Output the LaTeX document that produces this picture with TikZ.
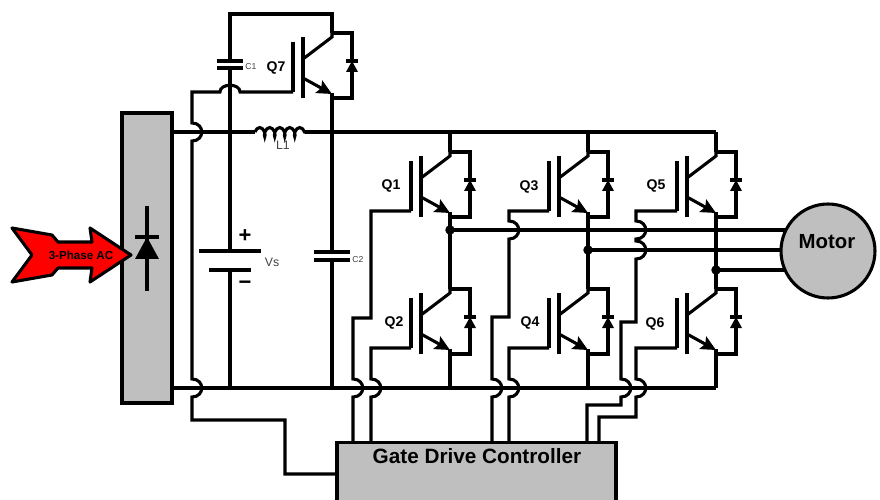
\documentclass[tikz,border=0pt]{standalone}
\usepackage{fontspec}
\setmainfont{Liberation Sans}
\usetikzlibrary{arrows.meta,decorations.pathmorphing}
\newcommand{\vhop}[2]{-- (#1,#2-9) .. controls (#1+13,#2-9) and (#1+13,#2+9) .. (#1,#2+9)}
\newcommand{\hhop}[2]{-- (#1+10,#2) .. controls (#1+10,#2-9) and (#1-10,#2-9) .. (#1-10,#2)}
\tikzset{
  wire/.style={line width=1.75pt,line join=miter},
  block/.style={draw,fill=gray75,line width=1.75pt,outer sep=0pt,inner sep=0pt},
  qlabel/.style={font=\fontsize{8}{9}\selectfont\bfseries,inner sep=0pt},
  clabel/.style={font=\fontsize{4.9}{6}\selectfont,text=black!75,inner sep=0pt},
  vlabel/.style={font=\fontsize{7}{8}\selectfont,text=black!75,inner sep=0pt},
  signlabel/.style={font=\fontsize{12.5}{14}\selectfont\bfseries,inner sep=0pt},
  dot/.style={circle,fill=black,minimum size=5.4pt,inner sep=0pt},
  igbt/.pic={
    \coordinate (-c) at (0,0);
    \coordinate (-e) at (0,65);
    \coordinate (-g) at (-39,59);
    \draw[wire] (0,0) -- (20,0) -- (20,28) (20,39) -- (20,65) -- (0,65);
    \draw[wire] (-29,4) -- (-29,65);
    \draw[wire] (-39,9) -- (-39,59);
    \draw[wire] (0,0) -- (0,4) -- (-29,26);
    \draw[wire,-{Stealth[length=8.5pt,width=8pt,inset=1.5pt]}] (-29,45) -- (0,61);
    \draw[wire] (0,60) -- (0,65);
    \draw[wire] (14,28) -- (26,28);
    \fill (20,28) -- (14,39) -- (26,39) -- cycle;
  }
}
\colorlet{gray75}{black!25}
\begin{document}
\begin{tikzpicture}[x=0.02cm,y=-0.02cm]
  \useasboundingbox (0,0) rectangle (880,500);

  % dc buses
  \coordinate (busp) at (716,132);
  \coordinate (busn) at (716,388);
  \coordinate (ph1) at (450,230);
  \coordinate (ph2) at (588,250);
  \coordinate (ph3) at (716,270);

  % rectifier and ac input
  \node[block,minimum width=1cm,minimum height=5.8cm] (rectifier) at (147,258) {};
  \draw[wire] (147,206) -- (147,291);
  \draw[wire] (135,237) -- (159,237);
  \fill (147,237) -- (135,259) -- (159,259) -- cycle;
  \draw[wire,fill=red,line join=round] (12,228) -- (52,235) -- (58,242) -- (92,242) -- (90,228) -- (131,255)
    -- (90,282) -- (92,268) -- (58,268) -- (52,275) -- (12,282) -- (32,255) -- cycle;
  \node[font=\fontsize{6.6}{8}\selectfont\bfseries,inner sep=0pt] (aclabel) at (81,255) {3-Phase AC};

  \draw[wire] (rectifier.east |- busp) -- (255,132);
  \draw[wire,decorate,decoration={coil,aspect=0.5,amplitude=0.09cm,segment length=0.2cm}] (255,132) -- (305,132);
  \draw[wire] (305,132) -- (busp);
  \draw[wire] (rectifier.east |- busn) -- (busn);

  % igbts
  \pic (q7) at (332,33) {igbt};
  \pic (q1) at (450,152) {igbt};
  \pic (q2) at (450,289) {igbt};
  \pic (q3) at (588,152) {igbt};
  \pic (q4) at (588,289) {igbt};
  \pic (q5) at (716,152) {igbt};
  \pic (q6) at (716,289) {igbt};

  \node[qlabel] (q7label) at (276,68) {Q7};
  \node[qlabel] (q1label) at (391,186) {Q1};
  \node[qlabel] (q2label) at (394,323) {Q2};
  \node[qlabel] (q3label) at (529,187) {Q3};
  \node[qlabel] (q4label) at (530,323) {Q4};
  \node[qlabel] (q5label) at (656,186) {Q5};
  \node[qlabel] (q6label) at (655,324) {Q6};

  % legs
  \foreach \u/\l in {q1/q2,q3/q4,q5/q6}{
    \draw[wire] (\u-c |- busp) -- (\u-c);
    \draw[wire] (\u-e) -- (\l-c);
    \draw[wire] (\l-e) -- (\l-e |- busn);
  }

  % source, c1, c2
  \draw[wire] (q7-c) -- (332,14) -- (230,14) -- (230,61);
  \draw[wire] (217,61) -- (243,61);
  \draw[wire] (217,68) -- (243,68);
  \draw[wire] (230,68) -- (230,251);
  \draw[wire] (199,251) -- (261,251);
  \draw[wire] (209,270) -- (251,270);
  \draw[wire] (230,270) -- (230,388);
  \draw[wire] (q7-e) -- (332,252);
  \draw[wire] (314,252) -- (350,252);
  \draw[wire] (314,260) -- (350,260);
  \draw[wire] (332,260) -- (332,388);

  \node[clabel] (c1label) at (251,67) {C1};
  \node[clabel] (c2label) at (358,260) {C2};
  \node[vlabel] (l1label) at (283,145) {L1};
  \node[vlabel] (vslabel) at (272,262) {Vs};
  \node[signlabel] (plus) at (245,236) {+};
  \node[signlabel] (minus) at (245,285) {−};

  % motor
  \draw[wire] (ph1) -- (ph1 -| 800,0);
  \draw[wire] (ph2) -- (ph2 -| 800,0);
  \draw[wire] (ph3) -- (ph3 -| 800,0);
  \node[block,circle,minimum size=1.88cm] (motor) at (828,251) {};
  \node[font=\fontsize{11.6}{14}\selectfont\bfseries,inner sep=0pt] (motorlabel) at (827,242) {Motor};
  \node[dot] (dot1) at (ph1) {};
  \node[dot] (dot2) at (ph2) {};
  \node[dot] (dot3) at (ph3) {};

  % controller
  \node[block,minimum width=5.58cm,minimum height=1.22cm] (controller) at (476.5,473) {};
  \node[font=\fontsize{11.8}{14}\selectfont\bfseries,inner sep=0pt] (controllerlabel) at (477,456) {Gate Drive Controller};

  % gate wires
  \draw[wire] (q7-g) \hhop{230}{92} -- (192,92) \vhop{192}{132} \vhop{192}{388} -- (192,420) -- (285,420) -- (285,474) -- (controller.west |- 0,474);
  \draw[wire] (q1-g) -- (371,211) -- (371,318) -- (353,318) \vhop{353}{388} -- (353,442);
  \draw[wire] (q2-g) -- (371,348) \vhop{371}{388} -- (371,442);
  \draw[wire] (q3-g) -- (509,211) \vhop{509}{230} -- (509,317) -- (492,317) \vhop{492}{388} -- (492,442);
  \draw[wire] (q4-g) -- (509,348) \vhop{509}{388} -- (509,442);
  \draw[wire] (q5-g) -- (636,211) \vhop{636}{230} \vhop{636}{250} -- (636,322) -- (621,322) \vhop{621}{388} -- (621,405) -- (587,405) -- (587,442);
  \draw[wire] (q6-g) -- (636,348) \vhop{636}{388} -- (636,417) -- (599,417) -- (599,442);
\end{tikzpicture}
\end{document}
